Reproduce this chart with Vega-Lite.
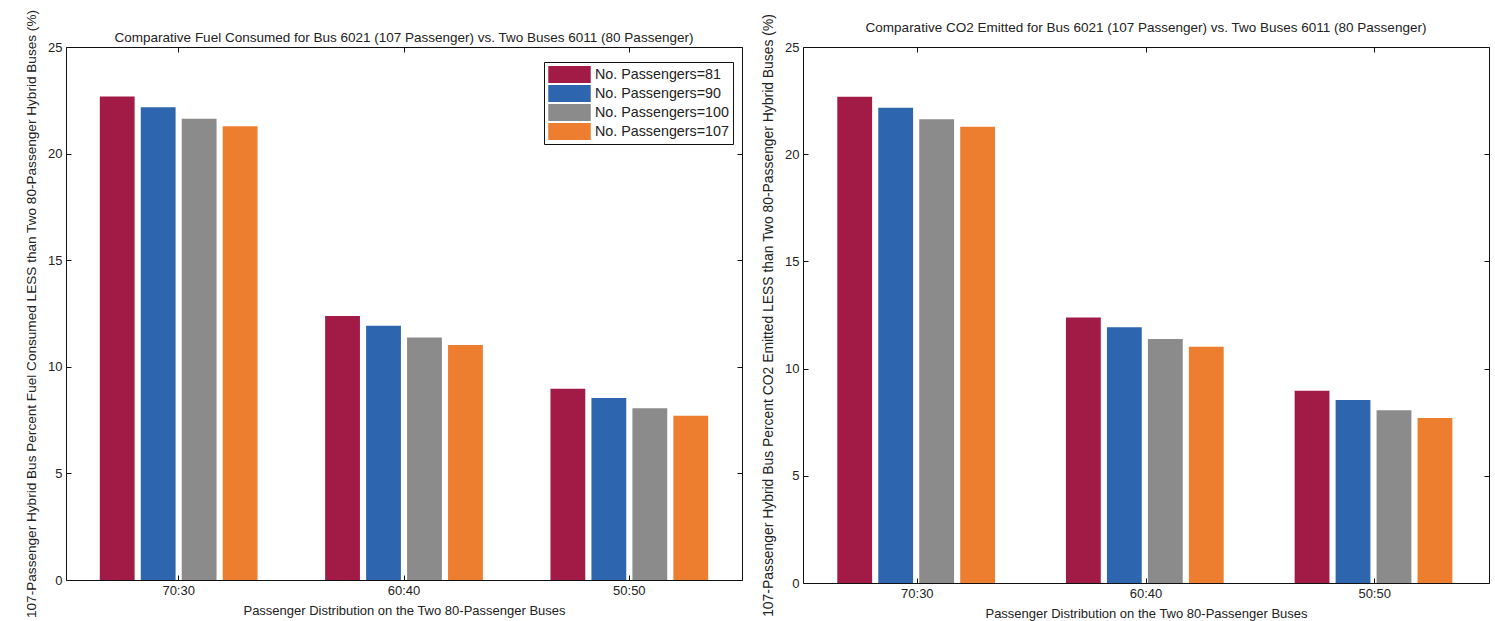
{
  "$schema": "https://vega.github.io/schema/vega-lite/v6.json",
  "background": "white",
  "padding": {"left": 24, "top": 8, "right": 1, "bottom": 1},
  "config": {
    "font": "Liberation Sans",
    "view": {"stroke": "#111", "strokeWidth": 1},
    "axis": {"labelFont": "Liberation Sans", "labelFontSize": 13, "labelColor": "#222", "titleFont": "Liberation Sans", "titleFontSize": 13, "titleFontWeight": "normal", "titleColor": "#222", "domainColor": "#111", "tickColor": "#111", "grid": false},
    "legend": {"labelFont": "Liberation Sans", "labelFontSize": 14.3, "labelColor": "#222"},
    "title": {"font": "Liberation Sans", "fontSize": 13.5, "fontWeight": "normal", "color": "#222"}
  },
  "datasets": {
    "bus": [
      {"dist": "70:30", "series": "No. Passengers=81", "fuel": 22.68, "co2": 22.68},
      {"dist": "70:30", "series": "No. Passengers=90", "fuel": 22.17, "co2": 22.17},
      {"dist": "70:30", "series": "No. Passengers=100", "fuel": 21.63, "co2": 21.63},
      {"dist": "70:30", "series": "No. Passengers=107", "fuel": 21.28, "co2": 21.28},
      {"dist": "60:40", "series": "No. Passengers=81", "fuel": 12.38, "co2": 12.38},
      {"dist": "60:40", "series": "No. Passengers=90", "fuel": 11.93, "co2": 11.93},
      {"dist": "60:40", "series": "No. Passengers=100", "fuel": 11.38, "co2": 11.38},
      {"dist": "60:40", "series": "No. Passengers=107", "fuel": 11.02, "co2": 11.02},
      {"dist": "50:50", "series": "No. Passengers=81", "fuel": 8.97, "co2": 8.97},
      {"dist": "50:50", "series": "No. Passengers=90", "fuel": 8.54, "co2": 8.54},
      {"dist": "50:50", "series": "No. Passengers=100", "fuel": 8.06, "co2": 8.06},
      {"dist": "50:50", "series": "No. Passengers=107", "fuel": 7.70, "co2": 7.70}
    ]
  },
  "spacing": 18,
  "hconcat": [
    {
      "width": 676,
      "height": 533,
      "title": {"text": "Comparative Fuel Consumed for Bus 6021 (107 Passenger) vs. Two Buses 6011 (80 Passenger)", "offset": -35},
      "data": {"name": "bus"},
      "layer": [
        {
          "mark": {"type": "bar"},
          "encoding": {
            "x": {"field": "dist", "type": "nominal", "sort": ["70:30", "60:40", "50:50"], "scale": {"paddingInner": 0.3, "paddingOuter": 0.15},
              "axis": {"title": "Passenger Distribution on the Two 80-Passenger Buses", "labelAngle": 0, "tickSize": -5, "labelPadding": 9, "titlePadding": 7, "domain": false}},
            "xOffset": {"field": "series", "type": "nominal", "sort": ["No. Passengers=81", "No. Passengers=90", "No. Passengers=100", "No. Passengers=107"], "scale": {"paddingInner": 0.15}},
            "y": {"field": "fuel", "type": "quantitative", "scale": {"domain": [0, 25], "nice": false},
              "axis": {"title": "107-Passenger Hybrid Bus Percent Fuel Consumed LESS than Two 80-Passenger Hybrid Buses (%)", "values": [0, 5, 10, 15, 20, 25], "tickSize": -5, "labelPadding": 9, "titlePadding": 9, "titleFontSize": 13.6, "domain": false}},
            "color": {"field": "series", "type": "nominal", "sort": ["No. Passengers=81", "No. Passengers=90", "No. Passengers=100", "No. Passengers=107"],
              "scale": {"domain": ["No. Passengers=81", "No. Passengers=90", "No. Passengers=100", "No. Passengers=107"], "range": ["#A21B47", "#2D66AE", "#8B8B8B", "#EE7E2F"]},
              "legend": {"title": null, "orient": "none", "legendX": 478, "legendY": 15, "symbolType": "M-2.5,-1H2.5V1H-2.5Z", "symbolSize": 289, "symbolOffset": 13, "labelOffset": 17, "symbolStrokeWidth": 0, "symbolOpacity": 1, "rowPadding": 2, "padding": 4, "strokeColor": "#111", "fillColor": "white"}}
          }
        },
        {
          "mark": {"type": "bar", "opacity": 0},
          "encoding": {
            "x": {"field": "dist", "type": "nominal", "sort": ["70:30", "60:40", "50:50"], "scale": {"paddingInner": 0.3, "paddingOuter": 0.15},
              "axis": {"orient": "top", "title": null, "labels": false, "tickSize": -5, "domain": false}},
            "xOffset": {"field": "series", "type": "nominal", "sort": ["No. Passengers=81", "No. Passengers=90", "No. Passengers=100", "No. Passengers=107"], "scale": {"paddingInner": 0.15}},
            "y": {"field": "fuel", "type": "quantitative", "scale": {"domain": [0, 25], "nice": false},
              "axis": {"orient": "right", "title": null, "labels": false, "values": [0, 5, 10, 15, 20, 25], "tickSize": -5, "domain": false}}
          }
        }
      ],
      "resolve": {"axis": {"x": "independent", "y": "independent"}}
    },
    {
      "width": 686,
      "height": 536,
      "title": {"text": "Comparative CO2 Emitted for Bus 6021 (107 Passenger) vs. Two Buses 6011 (80 Passenger)", "offset": -21},
      "data": {"name": "bus"},
      "layer": [
        {
          "mark": {"type": "bar"},
          "encoding": {
            "x": {"field": "dist", "type": "nominal", "sort": ["70:30", "60:40", "50:50"], "scale": {"paddingInner": 0.3, "paddingOuter": 0.15},
              "axis": {"title": "Passenger Distribution on the Two 80-Passenger Buses", "labelAngle": 0, "tickSize": -5, "labelPadding": 9, "titlePadding": 7, "domain": false}},
            "xOffset": {"field": "series", "type": "nominal", "sort": ["No. Passengers=81", "No. Passengers=90", "No. Passengers=100", "No. Passengers=107"], "scale": {"paddingInner": 0.15}},
            "y": {"field": "co2", "type": "quantitative", "scale": {"domain": [0, 25], "nice": false},
              "axis": {"title": "107-Passenger Hybrid Bus Percent CO2 Emitted LESS than Two 80-Passenger Hybrid Buses (%)", "values": [0, 5, 10, 15, 20, 25], "tickSize": -5, "labelPadding": 9, "titlePadding": 9, "titleFontSize": 13.9, "domain": false}},
            "color": {"field": "series", "type": "nominal", "sort": ["No. Passengers=81", "No. Passengers=90", "No. Passengers=100", "No. Passengers=107"],
              "scale": {"domain": ["No. Passengers=81", "No. Passengers=90", "No. Passengers=100", "No. Passengers=107"], "range": ["#A21B47", "#2D66AE", "#8B8B8B", "#EE7E2F"]},
              "legend": {"title": null, "orient": "none", "legendX": 481, "legendY": 8, "symbolType": "M-2.5,-1H2.5V1H-2.5Z", "symbolSize": 289, "symbolOffset": 13, "labelOffset": 17, "symbolStrokeWidth": 0, "symbolOpacity": 1, "rowPadding": 2, "padding": 4, "strokeColor": "#111", "fillColor": "white"}}
          }
        },
        {
          "mark": {"type": "bar", "opacity": 0},
          "encoding": {
            "x": {"field": "dist", "type": "nominal", "sort": ["70:30", "60:40", "50:50"], "scale": {"paddingInner": 0.3, "paddingOuter": 0.15},
              "axis": {"orient": "top", "title": null, "labels": false, "tickSize": -5, "domain": false}},
            "xOffset": {"field": "series", "type": "nominal", "sort": ["No. Passengers=81", "No. Passengers=90", "No. Passengers=100", "No. Passengers=107"], "scale": {"paddingInner": 0.15}},
            "y": {"field": "co2", "type": "quantitative", "scale": {"domain": [0, 25], "nice": false},
              "axis": {"orient": "right", "title": null, "labels": false, "values": [0, 5, 10, 15, 20, 25], "tickSize": -5, "domain": false}}
          }
        }
      ],
      "resolve": {"axis": {"x": "independent", "y": "independent"}}
    }
  ],
  "resolve": {"scale": {"color": "shared"}}
}
